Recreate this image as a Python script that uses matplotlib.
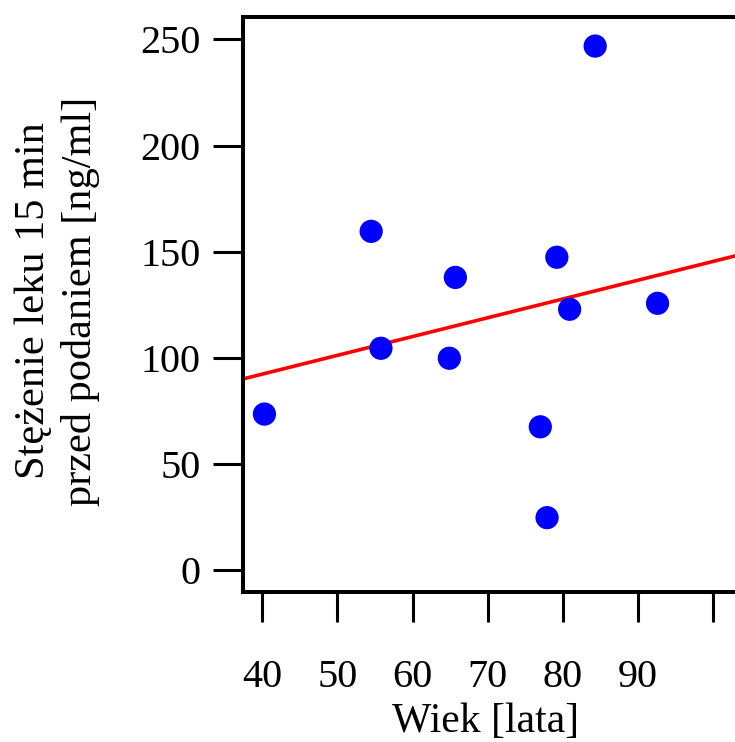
import numpy as np
import matplotlib
matplotlib.use("Agg")
import matplotlib.pyplot as plt

# age [years] vs drug concentration 15 min before dosing [ng/ml]
wiek = [40.3, 54.5, 55.8, 64.9, 65.7, 79.2, 80.9, 77.0, 77.9, 84.3, 92.6]
stezenie = [73.5, 159.6, 104.5, 99.8, 137.9, 147.4, 122.9, 67.5, 24.7, 246.9, 125.7]

x_ticks = [40, 50, 60, 70, 80, 90, 100]
x_ticklabels = ["40", "50", "60", "70", "80", "90", ""]
y_ticks = [0, 50, 100, 150, 200, 250]

plt.rcParams["font.family"] = ["Liberation Serif", "DejaVu Serif"]
plt.rcParams["font.size"] = 29

fig = plt.figure(figsize=(7.35, 7.42), dpi=100)
W, H = 735, 742
left, right, top, bottom = 243, 758.3, 17, 591.5
ax = fig.add_axes([left / W, 1 - bottom / H, (right - left) / W, (bottom - top) / H])

ax.scatter(wiek, stezenie, s=280, color="#0000ff", edgecolors="none", zorder=3)

# least squares line
b, a = np.polyfit(wiek, stezenie, 1)
xx = np.array([37.45, 106])
ax.plot(xx, a + b * xx, color="#ff0000", lw=2.6, zorder=2)

ax.set_xlim(37.45, 106)
ax.set_ylim(-10.1, 260.6)
ax.set_xticks(x_ticks)
ax.set_xticklabels(x_ticklabels)
ax.set_yticks(y_ticks)

for sp in ax.spines.values():
    sp.set_linewidth(2.9)
    sp.set_clip_on(False)
ax.tick_params(axis="both", length=21.6, width=2.2, direction="out")
ax.tick_params(axis="x", pad=27)
ax.tick_params(axis="y", pad=9)

ax.set_xlabel("Wiek [lata]", labelpad=0, fontsize=30)
ax.xaxis.set_label_coords((486 - left) / (right - left), -(722 - bottom) / (bottom - top))
ax.xaxis.label.set_va("center")

fig.text(57.5 / W, 1 - 301 / H, "Stężenie leku 15 min\nprzed podaniem [ng/ml]",
         rotation=90, ha="center", va="center", multialignment="center",
         linespacing=1.28, fontsize=30.5)

fig.savefig("out.png", dpi=100)
